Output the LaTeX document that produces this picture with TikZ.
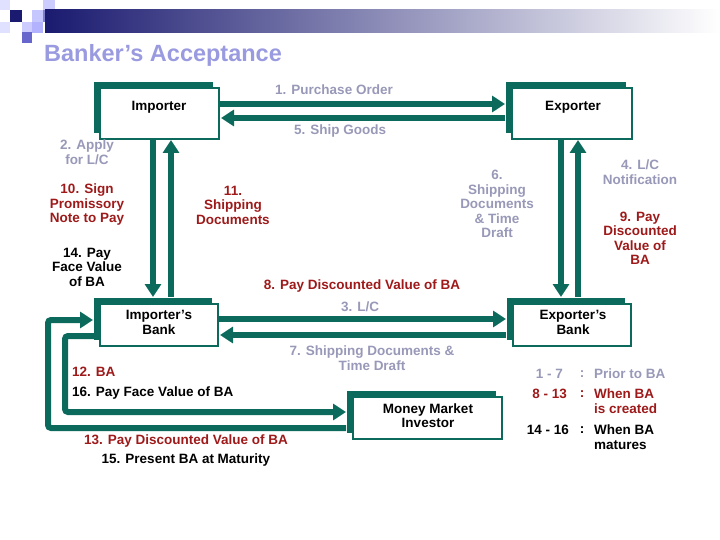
\documentclass[tikz,border=0pt]{standalone}
\usepackage{fontspec}
\setmainfont{Liberation Sans}
\usetikzlibrary{arrows.meta,shadows}
\definecolor{tealA}{HTML}{0B6A5B}
\definecolor{greyT}{HTML}{9898B8}
\definecolor{redT}{HTML}{9E1A1A}
\definecolor{titleC}{HTML}{9A9AE0}
\definecolor{navyA}{HTML}{1A1A70}
\newcommand\lblfont{\fontsize{13.5}{14.5}\selectfont\bfseries}
\tikzset{
  box/.style={draw=tealA, line width=2pt, fill=white, inner sep=0pt,
    general shadow={fill=tealA, shadow xshift=-6pt, shadow yshift=6pt}},
  txt/.style={inner sep=0pt, align=center, font=\lblfont},
  gT/.style={txt, text=greyT},
  rT/.style={txt, text=redT},
  bT/.style={txt, text=black},
  flow/.style={draw=tealA, line width=6pt, rounded corners=3pt,
    -{Triangle[length=13pt,width=16pt]}},
  sq/.style={draw=none}
}
\begin{document}
\begin{tikzpicture}[x=1pt,y=-1pt]
\useasboundingbox (0,0) rectangle (720,540);
% decorative squares
\fill[sq, fill=white!88!blue] (0,0) rectangle (10,10);
\fill[sq, fill=navyA] (10,10) rectangle (22,22);
\fill[sq, fill=white!78!blue] (32,10) rectangle (43,22);
\fill[sq, fill=white!80!blue] (43,0) rectangle (55,10);
\fill[sq, fill=white!62!blue!80!black] (43,10) rectangle (55,22);
\fill[sq, fill=white!80!blue] (22,22) rectangle (32,32);
\fill[sq, fill=white!70!blue] (32,22) rectangle (43,33);
\fill[sq, fill=white!50!blue!80!black] (22,32) rectangle (32,43);
\fill[sq, fill=white!88!blue] (0,22) rectangle (10,33);
% title bar
\shade[left color=navyA, right color=white] (45,10) rectangle (720,33);
\node[inner sep=0pt, anchor=west, text=titleC, font=\fontsize{23.5}{25}\selectfont\bfseries] (title) at (44,55) {Banker’s Acceptance};

% boxes
\node[box, minimum width=119pt, minimum height=51pt] (imp) at (159.5,113.5) {};
\node[box, minimum width=120pt, minimum height=51pt] (exp) at (572,113.5) {};
\node[box, minimum width=118pt, minimum height=42pt] (ib) at (159,325) {};
\node[box, minimum width=118pt, minimum height=42pt] (eb) at (572,325) {};
\node[box, minimum width=149pt, minimum height=42pt] (mm) at (427.5,418) {};

\node[bT] (impT) at (159,107) {Importer};
\node[bT] (expT) at (573,107) {Exporter};
\node[bT] (ibT) at (159,322.5) {Importer’s\\Bank};
\node[bT] (ebT) at (573,322.5) {Exporter’s\\Bank};
\node[bT] (mmT) at (428,415.5) {Money Market\\Investor};

% connectors
\draw[flow] (imp.east |- 0,104) -- ([xshift=-6pt]exp.west |- 0,104);
\draw[flow] ([xshift=-6pt]exp.west |- 0,118) -- ([xshift=1pt]imp.east |- 0,118);
\draw[flow] (imp.south -| 153,0) -- ([yshift=6pt]ib.north -| 153,0);
\draw[flow] ([yshift=6pt]ib.north -| 171,0) -- (imp.south -| 171,0);
\draw[flow] (exp.south -| 561,0) -- ([yshift=6pt]eb.north -| 561,0);
\draw[flow] ([yshift=6pt]eb.north -| 578,0) -- (exp.south -| 578,0);
\draw[flow] (ib.east |- 0,319) -- ([xshift=-6pt]eb.west |- 0,319);
\draw[flow] ([xshift=-6pt]eb.west |- 0,335) -- ([xshift=1pt]ib.east |- 0,335);
\draw[flow] (ib.west |- 0,336) -- (65,336) -- (65,412) -- ([xshift=-6pt]mm.west |- 0,412);
\draw[flow] ([xshift=-6pt]mm.west |- 0,428) -- (48,428) -- (48,320) -- ([xshift=-6pt]ib.west |- 0,320);

% labels
\node[gT] (t1) at (334,90) {1. Purchase Order};
\node[gT] (t5) at (340,131) {5. Ship Goods};
\node[gT] (t2) at (87,152) {2. Apply\\for L/C};
\node[rT] (t10) at (87,205) {10. Sign\\Promissory\\Note to Pay};
\node[rT] (t11) at (233,205) {11.\\Shipping\\Documents};
\node[bT] (t14) at (87,267) {14. Pay\\Face Value\\of BA};
\node[gT] (t6) at (497,204) {6.\\Shipping\\Documents\\\& Time\\Draft};
\node[gT] (t4) at (640,172) {4. L/C\\Notification};
\node[rT] (t9) at (640,238.5) {9. Pay\\Discounted\\Value of\\BA};
\node[rT] (t8) at (362,286) {8. Pay Discounted Value of BA};
\node[gT] (t3) at (360,307) {3. L/C};
\node[gT] (t7) at (372,358) {7. Shipping Documents \&\\Time Draft};
\node[rT, anchor=west] (t12) at (72,372) {12. BA};
\node[bT, anchor=west] (t16) at (72,393) {16. Pay Face Value of BA};
\node[rT] (t13) at (186,441) {13. Pay Discounted Value of BA};
\node[bT] (t15) at (186,460) {15. Present BA at Maturity};

% legend
\node[gT, anchor=east] (l1a) at (563,374) {1 - 7};
\node[gT] (l1b) at (582,374) {:};
\node[gT, anchor=west] (l1c) at (594,374) {Prior to BA};
\node[rT, anchor=east] (l2a) at (567,394) {8 - 13};
\node[rT] (l2b) at (582,394) {:};
\node[rT, anchor=west, align=left] (l2c) at (594,401) {When BA\\is created};
\node[bT, anchor=east] (l3a) at (569,430) {14 - 16};
\node[bT] (l3b) at (582,430) {:};
\node[bT, anchor=west, align=left] (l3c) at (594,437) {When BA\\matures};
\end{tikzpicture}
\end{document}
